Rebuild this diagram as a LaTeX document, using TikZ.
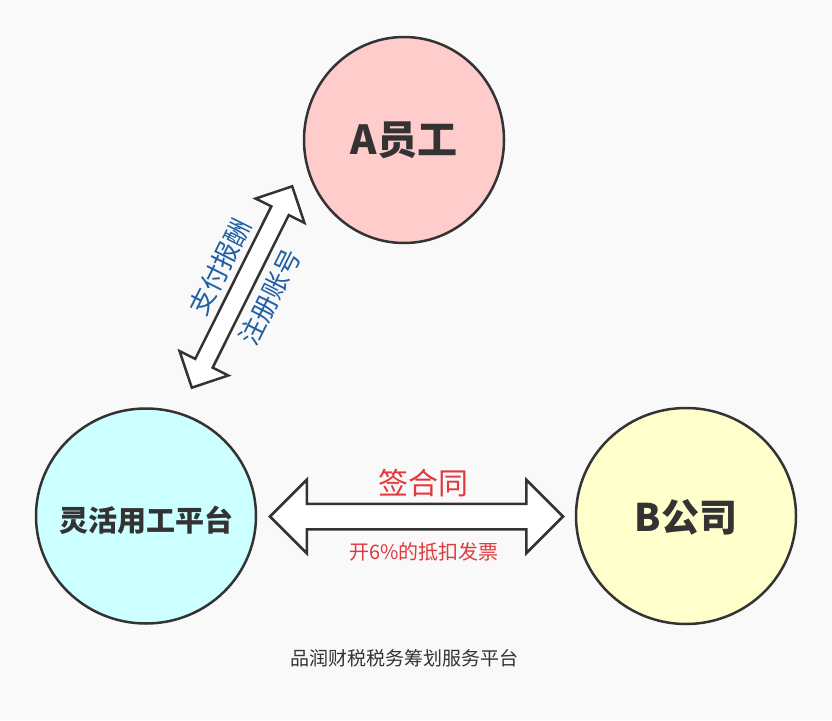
\documentclass[tikz,border=0pt]{standalone}
\usepackage{fontspec}
\setmainfont{Noto Sans CJK SC}
\usetikzlibrary{shapes.geometric,shapes.arrows}
\definecolor{ink}{HTML}{333333}
\definecolor{paper}{HTML}{F9F9F9}
\definecolor{pinkfill}{HTML}{FFCCCC}
\definecolor{cyanfill}{HTML}{CCFFFF}
\definecolor{yellowfill}{HTML}{FFFFCC}
\definecolor{redtext}{HTML}{E0393E}
\definecolor{bluetext}{HTML}{1F5FA6}
\begin{document}
\begin{tikzpicture}
      [ x = 1pt, y = -1pt
      , party/.style =
        { ellipse, draw=ink, line width=2.5pt, inner sep=0pt, text=ink, font=\bfseries }
      , link/.style =
        { double arrow, draw=ink, fill=white, line width=2.5pt, inner xsep=0pt
        , double arrow tip angle=90 }
      , redlabel/.style =
        { text=redtext, inner sep=0pt }
      , bluelabel/.style =
        { text=bluetext, inner sep=0pt, rotate=63.5, font=\fontsize{26}{30}\selectfont }
      ]
      \fill [paper] (0, 0) rectangle (832, 720);
      \useasboundingbox (0, 0) rectangle (832, 720);
      % the three parties
      \node [party, fill=pinkfill, minimum width=200pt, minimum height=206pt] (staff) at (404, 140) {};
      \node [party, fill=cyanfill, minimum width=220pt, minimum height=215pt] (platform) at (146, 516) {};
      \node [party, fill=yellowfill, minimum width=220pt, minimum height=216pt] (company) at (686, 516) {};
      \node [text=ink, font=\fontsize{40}{48}\selectfont\bfseries] (staffname) at (404, 140) {A员工};
      \node [text=ink, font=\fontsize{29}{35}\selectfont\bfseries] (platformname) at (146, 520) {灵活用工平台};
      \node [text=ink, font=\fontsize{38}{46}\selectfont\bfseries] (companyname) at (686, 517) {B公司};
      % block arrows between them
      \node [link, inner ysep=8.5pt, minimum width=52pt, minimum height=225pt
            , double arrow head extend=17.5pt, rotate=63.5] (staffarrow) at (242, 287) {};
      \node [link, inner ysep=11.5pt, minimum width=71pt, minimum height=293pt
            , double arrow head extend=24pt] (dealarrow) at (416.5, 516.5) {};
      % labels
      \node [bluelabel] (pay) at (220, 267) {支付报酬};
      \node [bluelabel] (register) at (270, 297) {注册账号};
      \node [redlabel, font=\fontsize{30}{36}\selectfont] (contract) at (423, 483) {签合同};
      \node [redlabel, font=\fontsize{20}{24}\selectfont] (invoice) at (424, 552) {开6\%的抵扣发票};
      \node [text=ink, font=\fontsize{19}{23}\selectfont] (caption) at (404, 658) {品润财税税务筹划服务平台};
    \end{tikzpicture}
\end{document}
